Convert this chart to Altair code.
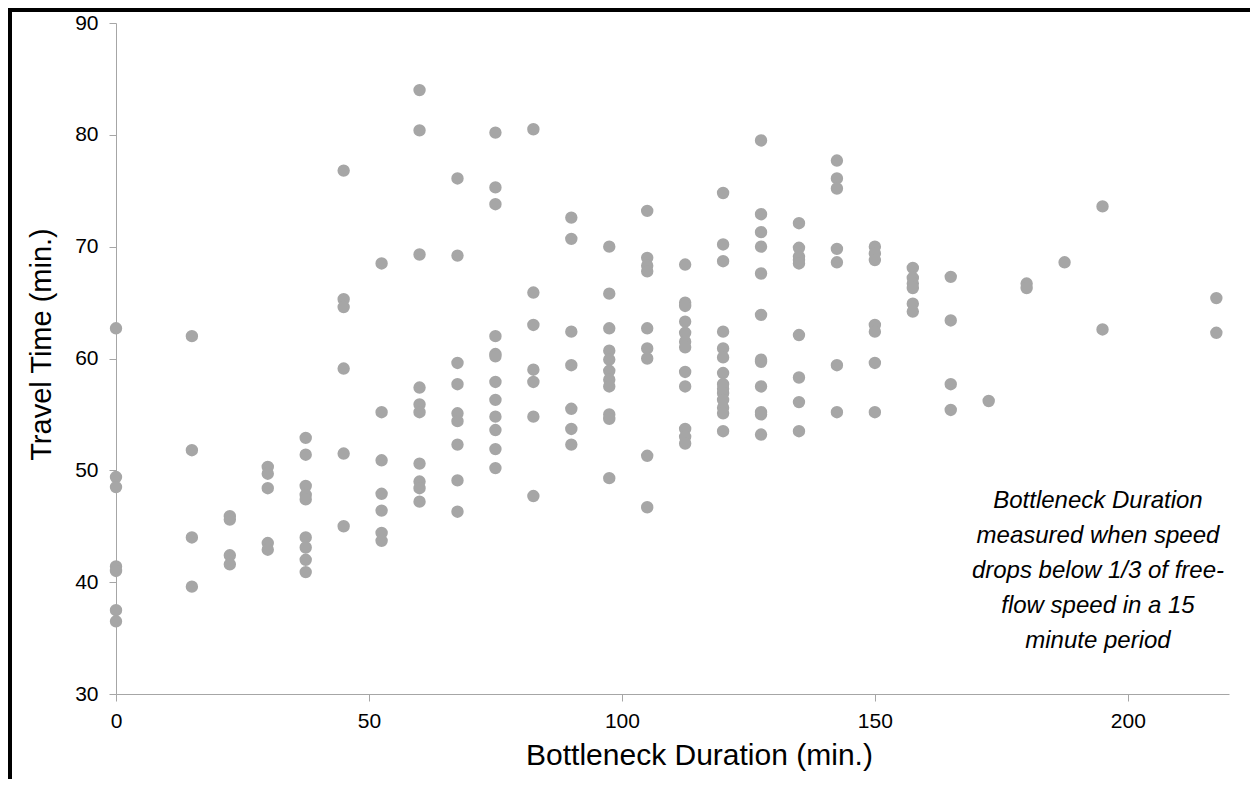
import altair as alt
import pandas as pd

# Bottleneck duration columns (min.)
duration_min = [0, 15, 22.5, 30, 37.5, 45, 52.5, 60, 67.5, 75, 82.5, 90, 97.5,
                105, 112.5, 120, 127.5, 135, 142.5, 150, 157.5, 165, 172.5,
                180, 187.5, 195, 217.5]

# Travel times (min.) observed at each duration
travel_time_min = [
    [62.7, 49.4, 48.5, 41.4, 41.0, 37.5, 36.5],
    [62.0, 51.8, 44.0, 39.6],
    [45.9, 45.6, 42.4, 41.6],
    [50.3, 49.7, 48.4, 43.5, 42.9],
    [52.9, 51.4, 48.6, 47.8, 47.4, 44.0, 43.1, 42.0, 40.9],
    [76.8, 65.3, 64.6, 59.1, 51.5, 45.0],
    [68.5, 55.2, 50.9, 47.9, 46.4, 44.4, 43.7],
    [84.0, 80.4, 69.3, 57.4, 55.9, 55.2, 50.6, 49.0, 48.4, 47.2],
    [76.1, 69.2, 59.6, 57.7, 55.1, 54.4, 52.3, 49.1, 46.3],
    [80.2, 75.3, 73.8, 62.0, 60.4, 60.2, 57.9, 56.3, 54.8, 53.6, 51.9, 50.2],
    [80.5, 65.9, 63.0, 59.0, 57.9, 54.8, 47.7],
    [72.6, 70.7, 62.4, 59.4, 55.5, 53.7, 52.3],
    [70.0, 65.8, 62.7, 60.7, 59.9, 58.9, 58.1, 57.5, 55.0, 54.6, 49.3],
    [73.2, 69.0, 68.3, 67.8, 62.7, 60.9, 60.0, 51.3, 46.7],
    [68.4, 65.0, 64.7, 63.3, 62.3, 61.5, 61.0, 58.8, 57.5, 53.7, 53.0, 52.4],
    [74.8, 70.2, 68.7, 62.4, 60.9, 60.1, 58.7, 57.7, 57.3, 56.9, 56.3, 55.6, 55.1, 53.5],
    [79.5, 72.9, 71.3, 70.0, 67.6, 63.9, 59.9, 59.7, 57.5, 55.2, 55.0, 53.2],
    [72.1, 69.9, 69.1, 68.8, 68.5, 62.1, 58.3, 56.1, 53.5],
    [77.7, 76.1, 75.2, 69.8, 68.6, 59.4, 55.2],
    [70.0, 69.4, 68.8, 63.0, 62.4, 59.6, 55.2],
    [68.1, 67.2, 66.7, 66.3, 64.9, 64.2],
    [67.3, 63.4, 57.7, 55.4],
    [56.2],
    [66.7, 66.3],
    [68.6],
    [73.6, 62.6],
    [65.4, 62.3],
]

x_ticks = [0, 50, 100, 150, 200]
y_ticks = [30, 40, 50, 60, 70, 80, 90]

note_lines = ["Bottleneck Duration", "measured when speed",
              "drops below 1/3 of free-", "flow speed in a 15", "minute period"]
note_x = [194.1]
note_y = [47.3]

rows = []
for d, ys in zip(duration_min, travel_time_min):
    for t in ys:
        rows.append({"duration": d, "travel": t})
df = pd.DataFrame(rows)

W, H = 1113, 671
PAD = {"left": 108, "top": 15, "right": 21, "bottom": 85}
FONT = "Liberation Sans"

x_scale = alt.Scale(domain=[0, 220], nice=False, zero=False)
y_scale = alt.Scale(domain=[30, 90], nice=False, zero=False)

points = alt.Chart(df).mark_circle(size=154, color="#a6a6a6", opacity=1).encode(
    x=alt.X("duration:Q", scale=x_scale,
            axis=alt.Axis(title="Bottleneck Duration (min.)", values=x_ticks,
                          grid=False, domainColor="#a6a6a6", tickColor="#a6a6a6",
                          tickSize=7, labelPadding=9, labelFontSize=21,
                          labelFlush=False,
                          labelColor="#000000", labelFont=FONT,
                          titleFont=FONT, titleFontSize=30, titleFontWeight="normal",
                          titleColor="#000000", titleX=583, titleY=70,
                          titleBaseline="alphabetic", titleAlign="center")),
    y=alt.Y("travel:Q", scale=y_scale,
            axis=alt.Axis(title="Travel Time (min.)", values=y_ticks,
                          grid=False, domainColor="#a6a6a6", tickColor="#a6a6a6",
                          tickSize=7, labelPadding=11, labelFontSize=21,
                          labelFlush=False,
                          labelColor="#000000", labelFont=FONT,
                          titleFont=FONT, titleFontSize=29, titleFontWeight="normal",
                          titleColor="#000000", titleX=-66, titleY=321,
                          titleAngle=-90, titleBaseline="alphabetic",
                          titleAlign="center")),
)

note_df = pd.DataFrame({"x": note_x, "y": note_y, "text": [note_lines]})
note = alt.Chart(note_df).mark_text(
    font=FONT, fontSize=24, fontStyle="italic", color="#000000",
    align="center", baseline="middle", lineHeight=35,
).encode(x=alt.X("x:Q", scale=x_scale), y=alt.Y("y:Q", scale=y_scale), text="text")

left_x = -PAD["left"] + 2
top_y = -PAD["top"] + 2
bottom_y = H + PAD["bottom"]

border_left = alt.Chart(pd.DataFrame({"a": [0]})).mark_rule(
    color="#000000", strokeWidth=4).encode(
    x=alt.value(left_x), y=alt.value(-PAD["top"]), y2=alt.value(bottom_y))
border_top = alt.Chart(pd.DataFrame({"a": [0]})).mark_rule(
    color="#000000", strokeWidth=4).encode(
    x=alt.value(-PAD["left"]), x2=alt.value(W + PAD["right"]), y=alt.value(top_y))

chart = alt.layer(points, note, border_left, border_top).properties(
    width=W, height=H,
    autosize=alt.AutoSizeParams(type="none"),
    padding=PAD,
    background="#ffffff",
).configure_view(strokeWidth=0)

chart.save("out.html", embed_options={"renderer": "svg", "actions": False})
